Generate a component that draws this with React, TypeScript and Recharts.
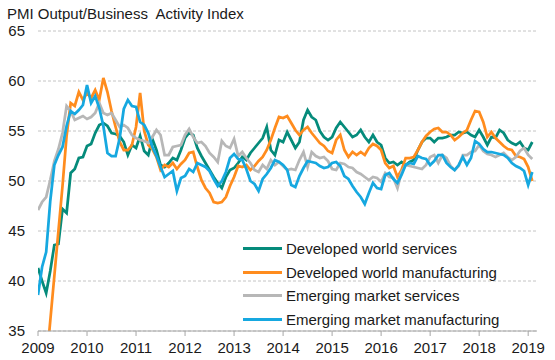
import { LineChart, Line, XAxis, YAxis, CartesianGrid } from "recharts";

// line colours
const COLORS = {
    devServices: "#058b7b", // teal
    devManufacturing: "#ff8c1e", // orange
    emServices: "#b7b7b7", // grey
    emManufacturing: "#16a8e0", // blue
};

const SERIES_NAMES = [
    "Developed world services",
    "Developed world manufacturing",
    "Emerging market services",
    "Emerging market manufacturing",
];

const yearTicks = [2009, 2010, 2011, 2012, 2013, 2014, 2015, 2016, 2017, 2018, 2019];
const valueTicks = [35, 40, 45, 50, 55, 60, 65];

// monthly readings, Jan 2009 - Feb 2019
const devServices = [
    41.3, 40.0, 38.8, 41.0, 43.6, 43.7, 47.2, 46.8, 50.8, 51.2, 52.3, 52.4,
    53.5, 53.7, 54.8, 55.6, 55.8, 55.5, 54.8, 54.7, 54.5, 53.9, 52.6, 53.6,
    53.3, 54.5, 53.0, 52.6, 54.2, 53.1, 51.6, 51.4, 51.8, 52.3, 52.1, 53.1,
    54.3, 54.8, 54.6, 53.3, 52.5, 51.8, 51.1, 50.4, 49.8, 49.3, 50.4, 51.1,
    51.3, 51.8, 52.4, 52.1, 52.8, 53.3, 53.8, 54.3, 55.4, 53.1, 52.6, 54.1,
    53.9, 54.9, 54.1, 53.3, 53.9, 56.1, 57.1, 56.4, 56.1, 55.0, 54.4, 54.1,
    54.4, 55.3, 55.9, 55.4, 54.9, 54.4, 54.6, 55.1, 54.4, 53.9, 54.6, 53.9,
    53.6, 52.3, 51.8, 51.9, 51.6, 51.9, 51.6, 51.9, 52.1, 53.1, 53.9, 54.3,
    54.3, 53.9, 54.3, 54.3, 54.4, 54.6, 54.6, 54.9, 54.8, 54.9, 54.6, 54.4,
    55.1, 54.4, 53.6, 54.4, 54.3, 55.1, 54.8, 54.1, 53.8, 53.6, 53.9, 53.3,
    53.1, 53.9,
];

const devManufacturing = [
    31.5, 31.0, 31.5, 36.0, 40.5, 45.0, 49.5, 54.5, 57.8, 57.5, 58.9, 58.1,
    58.8, 58.3, 59.1, 58.1, 60.3, 58.9, 57.0, 55.4, 53.9, 53.1, 53.1, 53.6,
    55.4, 58.8, 55.0, 53.6, 53.2, 52.4, 51.1, 51.6, 51.4, 51.8, 51.2, 51.7,
    52.1, 52.8, 52.9, 51.4, 50.1, 49.3, 48.8, 47.9, 47.8, 47.9, 48.4, 49.5,
    50.4, 51.5, 51.4, 51.6, 51.1, 51.5, 52.0, 52.4, 53.1, 54.1, 55.3, 56.4,
    56.3, 56.5, 55.8, 55.1, 54.6, 55.1, 55.4, 54.8, 54.3, 53.8, 53.5, 53.0,
    52.8, 54.1, 54.6, 53.1, 52.4, 52.9, 52.6, 52.9, 52.6, 53.3, 53.7, 53.5,
    53.1, 51.8, 51.3, 51.5, 50.4, 51.1, 52.3, 52.3, 52.4, 53.1, 53.9, 54.5,
    54.9, 55.2, 55.3, 54.9, 54.9, 54.6, 54.1, 54.4, 54.8, 55.1, 56.1, 57.0,
    56.9, 55.9, 54.4, 54.9, 54.3, 53.9, 53.5, 53.2, 53.1, 52.5, 52.4, 52.2,
    51.4, 50.0,
];

const emServices = [
    47.1, 47.9, 48.4, 50.1, 52.0, 53.2, 54.8, 57.5, 57.0, 56.1, 56.3, 56.5,
    56.2, 56.4, 56.8, 57.8, 56.8, 56.6, 56.8, 56.1, 55.4, 55.6, 55.3, 54.6,
    54.3, 54.1, 54.0, 53.8, 54.4, 55.1, 54.6, 52.6, 52.6, 53.4, 53.5, 53.6,
    54.6, 55.2, 54.4, 53.8, 53.9, 53.5, 52.8, 52.4, 51.9, 54.0, 53.5, 53.3,
    54.2, 52.5, 52.9, 52.3, 51.8, 51.1, 50.9, 51.6, 51.2, 52.1, 51.6, 51.9,
    51.5, 51.1, 51.2, 51.1, 52.1, 52.9, 51.4, 52.9, 52.5, 52.3, 52.4, 52.0,
    51.2, 51.1, 51.8, 51.7, 51.4, 51.3, 50.9, 50.7, 50.4, 50.1, 50.4, 50.3,
    49.9, 50.8, 50.4, 50.3, 49.3, 50.9, 51.6, 51.5, 51.4, 51.3, 51.2, 51.6,
    52.4, 52.6, 51.8, 52.6, 52.3, 51.5, 51.1, 51.5, 52.6, 52.6, 52.9, 53.0,
    53.6, 53.0, 52.7, 52.6, 52.4, 52.6, 52.8, 52.4, 52.1, 52.4, 53.0, 53.3,
    52.6, 52.2,
];

const emManufacturing = [
    38.6, 41.4, 42.9, 48.0, 51.6, 52.6, 53.4, 55.5, 57.0, 56.7, 57.1, 57.6,
    59.6, 57.8, 58.5, 57.3, 55.5, 52.8, 52.5, 52.5, 54.3, 57.2, 58.1, 57.5,
    57.4, 55.9, 55.6, 54.8, 53.4, 52.5, 51.4, 50.4, 50.7, 51.0, 49.0, 50.3,
    50.5, 51.2, 50.9, 51.8, 51.6, 51.4, 51.0, 50.2, 49.5, 50.0, 50.9, 52.3,
    52.7, 52.2, 52.1, 51.2, 50.0, 49.7, 49.0, 50.2, 50.7, 51.3, 52.1, 51.9,
    51.6, 51.1, 49.6, 49.4, 50.5, 51.3, 52.0, 51.9, 51.8, 51.5, 51.3, 51.4,
    51.8, 51.9, 51.5, 50.5, 50.2, 49.5, 48.9, 48.4, 47.7, 48.8, 49.8, 49.3,
    49.2, 50.6, 50.8, 50.2, 49.8, 50.6, 51.6, 51.8, 51.7, 52.5, 52.3, 52.2,
    51.6, 52.0, 52.6, 52.6, 51.8, 51.4, 51.1, 51.6, 52.4, 51.6, 52.3, 54.0,
    53.7, 53.2, 52.9, 52.9, 52.8, 52.7, 52.6, 52.3, 51.8, 51.5, 51.3, 51.0,
    49.6, 50.9,
];

// x position of each month as a decimal year
const chartData = devServices.map((v, i) => ({
    t: 2009 + i / 12,
    devServices: v,
    devManufacturing: devManufacturing[i],
    emServices: emServices[i],
    emManufacturing: emManufacturing[i],
}));

const LEGEND_ITEMS = [
    { name: SERIES_NAMES[0], color: COLORS.devServices },
    { name: SERIES_NAMES[1], color: COLORS.devManufacturing },
    { name: SERIES_NAMES[2], color: COLORS.emServices },
    { name: SERIES_NAMES[3], color: COLORS.emManufacturing },
];

// legend sits inside the plot, bottom right
const ChartLegend = () => (
    <div
        style={{
            position: "absolute",
            left: 243,
            top: 236.5,
            display: "flex",
            flexDirection: "column",
        }}
    >
        {LEGEND_ITEMS.map((item) => (
            <div
                key={item.name}
                style={{ display: "flex", alignItems: "center", height: 23.7 }}
            >
                <div
                    style={{
                        width: 39,
                        height: 3,
                        background: item.color,
                        marginRight: 4,
                    }}
                />
                <span style={{ fontSize: 15, lineHeight: "15px", color: "#1a1a1a", whiteSpace: "nowrap" }}>
                    {item.name}
                </span>
            </div>
        ))}
    </div>
);

export default function App() {
    const font = "'Liberation Sans', Arial, sans-serif";
    return (
        <div
            style={{
                position: "absolute",
                left: 0,
                top: 0,
                width: 555,
                height: 360,
                background: "#fff",
                fontFamily: font,
            }}
        >
            <div
                style={{
                    position: "absolute",
                    left: 7,
                    top: 5.5,
                    fontSize: 15,
                    lineHeight: "15px",
                    color: "#1a1a1a",
                    whiteSpace: "pre",
                }}
            >
                {"PMI Output/Business  Activity Index"}
            </div>
            <LineChart
                width={555}
                height={360}
                data={chartData}
                margin={{ top: 31, right: 18, left: 0, bottom: 0 }}
            >
                <CartesianGrid
                    horizontal={true}
                    vertical={false}
                    stroke="#c4c4c4"
                    strokeDasharray="3 2"
                />
                <XAxis
                    dataKey="t"
                    type="number"
                    domain={[2009, 2019.18]}
                    ticks={yearTicks}
                    allowDataOverflow
                    height={29}
                    interval={0}
                    tickSize={5}
                    tickMargin={6}
                    stroke="#a6a6a6"
                    tick={{ fontSize: 15, fill: "#1a1a1a", fontFamily: font }}
                />
                <YAxis
                    type="number"
                    domain={[35, 65]}
                    ticks={valueTicks}
                    allowDataOverflow
                    width={38}
                    axisLine={false}
                    tickLine={false}
                    tickSize={6}
                    tickMargin={7}
                    tick={{ fontSize: 15, fill: "#1a1a1a", fontFamily: font }}
                />
                <Line
                    dataKey="devServices"
                    name={SERIES_NAMES[0]}
                    stroke={COLORS.devServices}
                    strokeWidth={2.75}
                    dot={false}
                    isAnimationActive={false}
                />
                <Line
                    dataKey="devManufacturing"
                    name={SERIES_NAMES[1]}
                    stroke={COLORS.devManufacturing}
                    strokeWidth={2.75}
                    dot={false}
                    isAnimationActive={false}
                />
                <Line
                    dataKey="emServices"
                    name={SERIES_NAMES[2]}
                    stroke={COLORS.emServices}
                    strokeWidth={2.75}
                    dot={false}
                    isAnimationActive={false}
                />
                <Line
                    dataKey="emManufacturing"
                    name={SERIES_NAMES[3]}
                    stroke={COLORS.emManufacturing}
                    strokeWidth={2.75}
                    dot={false}
                    isAnimationActive={false}
                />
            </LineChart>
            <ChartLegend />
        </div>
    );
}
